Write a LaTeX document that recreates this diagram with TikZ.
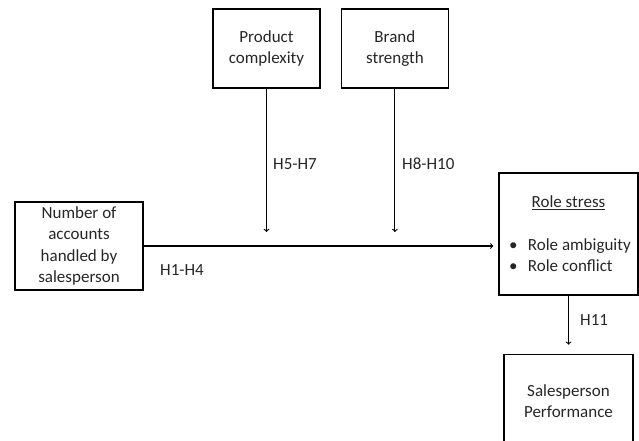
\documentclass[tikz,border=0pt]{standalone}
\usepackage{fontspec}
\setmainfont{Carlito}
\usetikzlibrary{positioning}
\tikzstyle{factor} = [rectangle, draw=black, line width=1.4pt, text centered, align=center, inner sep=3pt]
\tikzstyle{hyp} = [anchor=west, inner sep=0pt]
\tikzstyle{arrow} = [line width=1.1pt,->]

\begin{document}
\begin{tikzpicture}[x=1pt, y=-1pt, font=\fontsize{17}{21.3}\selectfont, text=black!85]
\useasboundingbox (0,0) rectangle (639,440);

\node (accounts) [factor, minimum width=128pt, minimum height=88pt] at (79,246) {Number of\\accounts\\handled by\\salesperson};
\node (product) [factor, minimum width=107pt, minimum height=79pt] at (266.5,48.5) {Product\\complexity};
\node (brand) [factor, minimum width=107pt, minimum height=79pt, right=20pt of product] {Brand\\strength};
\node (stress) [factor, minimum width=139pt, minimum height=122pt] at (568.5,234) {\underline{Role stress}\\[21.7pt]
  \makebox[119pt][l]{\textbullet\hspace{10.5pt}Role ambiguity}\\
  \makebox[119pt][l]{\textbullet\hspace{10.5pt}Role conflict}};
\node (perf) [factor, minimum width=129pt, minimum height=93pt, below=58pt of stress] {Salesperson\\Performance};

\path (product.south |- accounts.east) ++(0,-14) coordinate (ptip);
\path (brand.south |- accounts.east) ++(0,-14) coordinate (btip);

\node (h14) at (182,270) {H1-H4};
\node (h57) [hyp] at (273,164) {H5-H7};
\node (h810) [hyp] at (402,164) {H8-H10};
\node (h11) [hyp] at (580,320) {H11};

\draw [arrow, shorten >=5pt] (accounts.east) -- (accounts.east -| stress.west);
\draw [arrow] (product) -- (ptip);
\draw [arrow] (brand) -- (btip);
\draw [arrow, shorten >=9pt] (stress) -- (perf);

\end{tikzpicture}
\end{document}
